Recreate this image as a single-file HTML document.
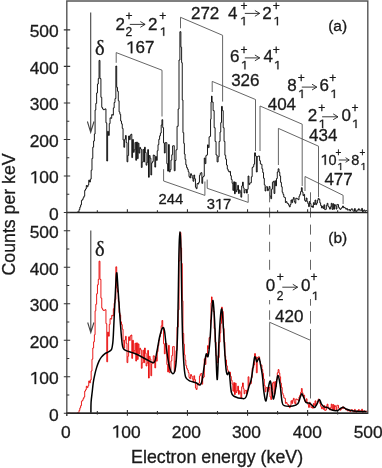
<!DOCTYPE html><html><head><meta charset="utf-8"><style>html,body{margin:0;padding:0;background:#fff;overflow:hidden}svg{display:block;filter:blur(0.3px)} text{stroke:#1a1a1a;stroke-width:0.3px}</style></head><body><svg width="382" height="468" viewBox="0 0 382 468"><rect width="382" height="468" fill="#fff"/><path d="M66.5,212.50H76.60V212.50H77.40V211.93H78.21V211.84H79.02V209.57H79.83V207.10H80.64V204.86H81.45V200.43H82.26V199.59H83.07V197.79H83.88V196.21H84.69V190.31H85.50V188.96H86.31V185.49H87.12V186.85H87.93V185.01H88.74V180.15H89.55V182.07H90.36V179.13H91.17V170.23H91.98V158.38H92.79V147.18H93.60V141.00H94.38V134.00H95.08V110.00H95.81V103.41H96.64V92.95H97.46V84.02H98.29V78.60H99.05V60.40H99.95V78.60H100.92V97.33H101.76V107.43H102.59V108.99H103.43V109.72H104.27V109.39H105.11V108.86H105.94V122.83H106.78V161.00H107.61V131.30H108.43V135.40H109.25V123.63H110.07V117.84H110.89V118.31H111.71V114.55H112.53V115.19H113.35V107.92H114.17V102.51H114.99V98.60H115.85V66.00H116.70V87.34H117.49V91.27H118.29V100.77H119.08V111.90H119.88V114.29H120.67V121.03H121.47V123.80H122.26V128.35H123.06V139.95H123.85V147.27H124.64V139.28H125.44V135.53H126.23V142.53H127.03V161.82H127.82V155.44H128.62V136.04H129.41V139.69H130.21V135.13H131.00V134.21H131.80V157.58H132.59V139.50H133.39V152.34H134.18V149.80H134.98V142.45H135.77V160.25H136.57V142.05H137.36V158.65H138.16V143.12H138.95V153.08H139.74V147.38H140.54V148.96H141.33V167.46H142.13V162.05H142.92V149.43H143.72V161.91H144.51V147.22H145.31V152.46H146.10V165.17H146.90V162.39H147.69V149.64H148.49V177.25H149.28V155.53H150.08V158.20H150.87V174.96H151.67V162.84H152.46V161.55H153.26V155.04H154.05V155.41H154.84V167.08H155.64V156.50H156.43V160.38H157.23V150.78H158.02V144.66H158.82V139.33H159.61V135.80H160.41V133.08H161.20V125.00H161.95V119.70H162.71V127.63H163.54V142.92H164.36V153.02H165.19V142.63H166.01V142.67H166.84V163.68H167.66V171.12H168.49V144.55H169.31V171.89H170.14V169.65H170.96V160.07H171.79V154.76H172.61V145.89H173.44V145.66H174.26V170.78H175.09V160.50H176.00V149.80H177.05V126.30H178.15V109.00H179.00V60.00H179.90V31.70H180.88V47.20H181.62V62.70H182.25V100.00H182.95V132.70H183.73V143.35H184.38V154.00H185.07V159.40H185.82V164.80H186.60V167.57H187.40V169.24H188.21V171.76H189.01V176.67H189.81V177.88H190.62V173.73H191.42V175.26H192.22V178.03H193.03V181.26H193.83V175.00H194.63V178.79H195.44V187.26H196.24V188.69H197.05V183.51H197.85V184.06H198.65V182.35H199.45V175.25H200.26V173.26H201.06V172.66H201.87V183.36H202.67V176.99H203.47V176.19H204.28V158.04H205.08V163.63H205.88V155.64H206.69V154.89H207.49V144.86H208.29V147.64H209.09V136.87H209.90V136.30H210.55V119.20H211.05V102.00H211.50V96.10H212.10V102.00H213.10V110.60H214.15V127.70H215.10V141.40H216.05V155.00H217.10V161.90H218.10V156.80H219.10V141.40H220.05V132.00H220.75V122.60H221.50V106.40H222.35V110.60H223.20V127.70H224.05V141.40H224.90V155.28H225.70V159.18H226.50V165.03H227.30V169.07H228.10V170.84H228.90V172.04H229.70V171.41H230.50V175.66H231.30V179.47H232.10V183.29H232.90V190.41H233.70V181.78H234.50V193.72H235.30V182.34H236.10V191.68H236.90V189.68H237.70V185.35H238.50V193.48H239.30V189.95H240.10V192.02H240.90V197.20H241.70V185.95H242.50V182.15H243.30V187.93H244.10V192.98H244.90V189.82H245.70V189.45H246.50V193.10H247.30V189.30H248.10V176.00H248.91V184.59H249.72V183.06H250.53V182.79H251.34V176.79H252.16V167.56H252.97V166.61H253.78V164.20H254.59V152.80H255.45V156.00H256.35V172.00H257.20V156.70H258.00V156.07H258.79V156.08H259.58V160.66H260.37V163.97H261.15V164.31H261.95V168.84H262.74V172.53H263.52V178.24H264.31V184.86H265.11V191.00H265.91V186.89H266.72V186.70H267.53V190.72H268.35V189.06H269.16V186.44H269.97V196.10H270.79V198.68H271.60V189.14H272.41V182.34H273.23V181.30H274.04V193.49H274.85V180.74H275.67V185.87H276.48V178.53H277.29V172.00H278.15V168.80H279.00V172.30H279.80V176.02H280.60V182.36H281.40V186.73H282.20V192.27H283.00V194.43H283.80V197.09H284.60V197.54H285.40V202.50H286.20V201.66H287.00V203.33H287.80V203.72H288.60V205.27H289.40V206.88H290.20V204.53H291.00V199.95H291.80V202.65H292.60V199.39H293.40V197.50H294.20V201.45H295.00V203.20H295.80V198.14H296.60V198.60H297.40V198.86H298.20V199.71H299.00V196.20H299.80V194.35H300.60V191.59H301.40V187.70H302.20V192.01H303.00V195.62H303.80V194.35H304.60V200.38H305.40V201.40H306.20V198.01H307.00V201.68H307.80V203.59H308.60V206.62H309.40V201.48H310.20V203.59H311.00V206.79H311.80V205.97H312.60V207.44H313.40V202.64H314.20V204.51H315.00V200.05H315.80V204.69H316.60V203.15H317.40V200.18H318.20V198.30H319.01V199.39H319.82V202.84H320.63V205.52H321.45V207.91H322.26V206.32H323.07V208.46H323.89V204.80H324.70V209.63H325.51V209.30H326.33V205.35H327.14V203.34H327.95V206.31H328.77V207.29H329.58V209.14H330.39V206.90H331.21V203.32H332.02V209.38H332.83V203.69H333.65V209.25H334.46V204.58H335.27V205.80H336.09V209.07H336.90V204.45H337.71V204.62H338.53V207.41H339.34V208.76H340.15V209.36H340.97V208.24H341.78V207.54H342.59V206.00H343.40V207.72H344.19V207.40H344.98V208.18H345.78V209.20H346.57V208.48H347.36V210.09H348.16V209.87H348.95V209.52H349.75V210.88H350.54V209.79H351.33V208.83H352.13V209.15H352.92V211.05H353.71V211.31H354.51V208.58H355.30V211.19H356.09V211.70H356.89V209.96H357.68V210.20H358.47V208.75H359.27V210.13H360.06V210.05H360.85V210.49H361.65V208.40H362.44V211.89H363.24V210.32H364.03V209.98H364.82V211.35H365.62V210.63H366.41V210.46H367.20V211.07H368.00" fill="none" stroke="#000" stroke-width="0.9" stroke-linejoin="miter"/><path d="M66.5,413.30H76.60V413.30H77.40V412.73H78.21V412.64H79.02V410.37H79.83V407.90H80.64V405.66H81.45V401.23H82.26V400.39H83.07V398.59H83.88V397.01H84.69V391.11H85.50V389.76H86.31V386.29H87.12V387.65H87.93V385.81H88.74V380.95H89.55V382.87H90.36V379.93H91.17V371.03H91.98V359.18H92.79V347.98H93.60V341.80H94.38V334.80H95.08V310.80H95.81V304.21H96.64V293.75H97.46V284.82H98.29V279.40H99.05V261.20H99.95V279.40H100.92V298.13H101.76V308.23H102.59V309.79H103.43V310.52H104.27V310.19H105.11V309.66H105.94V323.63H106.78V361.80H107.61V332.10H108.43V336.20H109.25V324.43H110.07V318.64H110.89V319.11H111.71V315.35H112.53V315.99H113.35V308.72H114.17V303.31H114.99V299.40H115.85V266.80H116.70V288.14H117.49V292.07H118.29V301.57H119.08V312.70H119.88V315.09H120.67V321.83H121.47V324.60H122.26V329.15H123.06V340.75H123.85V348.07H124.64V340.08H125.44V336.33H126.23V343.33H127.03V362.62H127.82V356.24H128.62V336.84H129.41V340.49H130.21V335.93H131.00V335.01H131.80V358.38H132.59V340.30H133.39V353.14H134.18V350.60H134.98V343.25H135.77V361.05H136.57V342.85H137.36V359.45H138.16V343.92H138.95V353.88H139.74V348.18H140.54V349.76H141.33V368.26H142.13V362.85H142.92V350.23H143.72V362.71H144.51V348.02H145.31V353.26H146.10V365.97H146.90V363.19H147.69V350.44H148.49V378.05H149.28V356.33H150.08V359.00H150.87V375.76H151.67V363.64H152.46V362.35H153.26V355.84H154.05V356.21H154.84V367.88H155.64V357.30H156.43V361.18H157.23V351.58H158.02V345.46H158.82V340.13H159.61V336.60H160.41V333.88H161.20V325.80H161.95V320.50H162.71V328.43H163.54V343.72H164.36V353.82H165.19V343.43H166.01V343.47H166.84V364.48H167.66V371.92H168.49V345.35H169.31V372.69H170.14V370.45H170.96V360.87H171.79V355.56H172.61V346.69H173.44V346.46H174.26V371.58H175.09V361.30H176.00V350.60H177.05V327.10H178.15V309.80H179.00V260.80H179.90V232.50H180.88V248.00H181.62V263.50H182.25V300.80H182.95V333.50H183.73V344.15H184.38V354.80H185.07V360.20H185.82V365.60H186.60V368.37H187.40V370.04H188.21V372.56H189.01V377.47H189.81V378.68H190.62V374.53H191.42V376.06H192.22V378.83H193.03V382.06H193.83V375.80H194.63V379.59H195.44V388.06H196.24V389.49H197.05V384.31H197.85V384.86H198.65V383.15H199.45V376.05H200.26V374.06H201.06V373.46H201.87V384.16H202.67V377.79H203.47V376.99H204.28V358.84H205.08V364.43H205.88V356.44H206.69V355.69H207.49V345.66H208.29V348.44H209.09V337.67H209.90V337.10H210.55V320.00H211.05V302.80H211.50V296.90H212.10V302.80H213.10V311.40H214.15V328.50H215.10V342.20H216.05V355.80H217.10V362.70H218.10V357.60H219.10V342.20H220.05V332.80H220.75V323.40H221.50V307.20H222.35V311.40H223.20V328.50H224.05V342.20H224.90V356.08H225.70V359.98H226.50V365.83H227.30V369.87H228.10V371.64H228.90V372.84H229.70V372.21H230.50V376.46H231.30V380.27H232.10V384.09H232.90V391.21H233.70V382.58H234.50V394.52H235.30V383.14H236.10V392.48H236.90V390.48H237.70V386.15H238.50V394.28H239.30V390.75H240.10V392.82H240.90V398.00H241.70V386.75H242.50V382.95H243.30V388.73H244.10V393.78H244.90V390.62H245.70V390.25H246.50V393.90H247.30V390.10H248.10V376.80H248.91V385.39H249.72V383.86H250.53V383.59H251.34V377.59H252.16V368.36H252.97V367.41H253.78V365.00H254.59V353.60H255.45V356.80H256.35V372.80H257.20V357.50H258.00V356.87H258.79V356.88H259.58V361.46H260.37V364.77H261.15V365.11H261.95V369.64H262.74V373.33H263.52V379.04H264.31V385.66H265.11V391.80H265.91V387.69H266.72V387.50H267.53V391.52H268.35V389.86H269.16V387.24H269.97V396.90H270.79V399.48H271.60V389.94H272.41V383.14H273.23V382.10H274.04V394.29H274.85V381.54H275.67V386.67H276.48V379.33H277.29V372.80H278.15V369.60H279.00V373.10H279.80V376.82H280.60V383.16H281.40V387.53H282.20V393.07H283.00V395.23H283.80V397.89H284.60V398.34H285.40V403.30H286.20V402.46H287.00V404.13H287.80V404.52H288.60V406.07H289.40V407.68H290.20V405.33H291.00V400.75H291.80V403.45H292.60V400.19H293.40V398.30H294.20V402.25H295.00V404.00H295.80V398.94H296.60V399.40H297.40V399.66H298.20V400.51H299.00V397.00H299.80V395.15H300.60V392.39H301.40V388.50H302.20V392.81H303.00V396.42H303.80V395.15H304.60V401.18H305.40V402.20H306.20V398.81H307.00V402.48H307.80V404.39H308.60V407.42H309.40V402.28H310.20V404.39H311.00V407.59H311.80V406.77H312.60V408.24H313.40V403.44H314.20V405.31H315.00V400.85H315.80V405.49H316.60V403.95H317.40V400.98H318.20V399.10H319.01V400.19H319.82V403.64H320.63V406.32H321.45V408.71H322.26V407.12H323.07V409.26H323.89V405.60H324.70V410.43H325.51V410.10H326.33V406.15H327.14V404.14H327.95V407.11H328.77V408.09H329.58V409.94H330.39V407.70H331.21V404.12H332.02V410.18H332.83V404.49H333.65V410.05H334.46V405.38H335.27V406.60H336.09V409.87H336.90V405.25H337.71V405.42H338.53V408.21H339.34V409.56H340.15V410.16H340.97V409.04H341.78V408.34H342.59V406.80H343.40V408.52H344.19V408.20H344.98V408.98H345.78V410.00H346.57V409.28H347.36V410.89H348.16V410.67H348.95V410.32H349.75V411.68H350.54V410.59H351.33V409.63H352.13V409.95H352.92V411.85H353.71V412.11H354.51V409.38H355.30V411.99H356.09V412.50H356.89V410.76H357.68V411.00H358.47V409.55H359.27V410.93H360.06V410.85H360.85V411.29H361.65V409.20H362.44V412.69H363.24V411.12H364.03V410.78H364.82V412.15H365.62V411.43H366.41V411.26H367.20V411.87H368.00" fill="none" stroke="#e80000" stroke-width="0.9"/><path d="M90.90,413.30C90.93,411.42 90.88,405.55 91.10,402.00C91.32,398.45 91.83,395.28 92.20,392.00C92.57,388.72 92.85,385.28 93.30,382.30C93.75,379.32 94.35,376.55 94.90,374.10C95.45,371.65 95.92,369.77 96.60,367.60C97.28,365.43 98.20,362.85 99.00,361.10C99.80,359.35 100.45,358.32 101.40,357.10C102.35,355.88 103.60,354.62 104.70,353.80C105.80,352.98 107.05,352.73 108.00,352.20C108.95,351.67 109.78,351.13 110.40,350.60C111.02,350.07 111.35,349.93 111.70,349.00C112.05,348.07 112.23,347.17 112.50,345.00C112.77,342.83 112.88,343.50 113.30,336.00C113.72,328.50 114.45,310.50 115.00,300.00C115.55,289.50 116.10,274.92 116.60,273.00C117.10,271.08 117.47,281.43 118.00,288.50C118.53,295.57 119.27,307.82 119.80,315.40C120.33,322.98 120.80,329.23 121.20,334.00C121.60,338.77 121.85,341.58 122.20,344.00C122.55,346.42 122.67,347.40 123.30,348.50C123.93,349.60 123.88,349.68 126.00,350.60C128.12,351.52 132.80,352.65 136.00,354.00C139.20,355.35 142.22,357.28 145.20,358.70C148.18,360.12 151.97,363.62 153.90,362.50C155.83,361.38 155.83,356.33 156.80,352.00C157.77,347.67 158.75,340.52 159.70,336.50C160.65,332.48 161.70,328.85 162.50,327.90C163.30,326.95 163.85,327.45 164.50,330.80C165.15,334.15 165.70,342.55 166.40,348.00C167.10,353.45 167.90,359.50 168.70,363.50C169.50,367.50 170.32,370.42 171.20,372.00C172.08,373.58 173.20,374.42 174.00,373.00C174.80,371.58 175.43,369.33 176.00,363.50C176.57,357.67 177.03,348.58 177.40,338.00C177.77,327.42 177.97,313.00 178.20,300.00C178.43,287.00 178.61,270.00 178.80,260.00C178.99,250.00 179.15,244.72 179.35,240.00C179.55,235.28 179.78,231.70 180.00,231.70C180.22,231.70 180.45,235.28 180.65,240.00C180.85,244.72 181.01,250.00 181.20,260.00C181.39,270.00 181.57,287.00 181.80,300.00C182.03,313.00 182.23,327.10 182.60,338.00C182.97,348.90 183.50,358.90 184.00,365.40C184.50,371.90 184.68,374.43 185.60,377.00C186.52,379.57 187.77,379.85 189.50,380.80C191.23,381.75 194.27,382.00 196.00,382.70C197.73,383.40 198.90,385.32 199.90,385.00C200.90,384.68 201.28,383.97 202.00,380.80C202.72,377.63 203.50,370.47 204.20,366.00C204.90,361.53 205.55,355.62 206.20,354.00C206.85,352.38 207.47,358.63 208.10,356.30C208.73,353.97 209.42,347.22 210.00,340.00C210.58,332.78 211.10,319.57 211.60,313.00C212.10,306.43 212.52,299.63 213.00,300.60C213.48,301.57 214.03,310.57 214.50,318.80C214.97,327.03 215.33,339.88 215.80,350.00C216.27,360.12 216.77,381.17 217.30,379.50C217.83,377.83 218.45,350.75 219.00,340.00C219.55,329.25 220.13,320.13 220.60,315.00C221.07,309.87 221.40,308.23 221.80,309.20C222.20,310.17 222.55,314.38 223.00,320.80C223.45,327.22 224.00,339.70 224.50,347.70C225.00,355.70 225.53,364.32 226.00,368.80C226.47,373.28 226.75,373.90 227.30,374.60C227.85,375.30 228.63,370.10 229.30,373.00C229.97,375.90 230.43,388.08 231.30,392.00C232.17,395.92 232.58,395.40 234.50,396.50C236.42,397.60 240.88,398.52 242.80,398.60C244.72,398.68 244.95,399.10 246.00,397.00C247.05,394.90 248.25,388.83 249.10,386.00C249.95,383.17 250.43,383.17 251.10,380.00C251.77,376.83 252.55,370.67 253.10,367.00C253.65,363.33 254.02,359.62 254.40,358.00C254.78,356.38 255.00,356.65 255.40,357.30C255.80,357.95 256.20,361.78 256.80,361.90C257.40,362.02 258.42,357.78 259.00,358.00C259.58,358.22 259.75,360.37 260.30,363.20C260.85,366.03 261.68,370.08 262.30,375.00C262.92,379.92 263.38,388.38 264.00,392.70C264.62,397.02 265.30,401.62 266.00,400.90C266.70,400.18 267.48,391.72 268.20,388.40C268.92,385.08 269.67,380.63 270.30,381.00C270.93,381.37 271.47,387.60 272.00,390.60C272.53,393.60 272.88,399.37 273.50,399.00C274.12,398.63 274.98,392.30 275.70,388.40C276.42,384.50 277.08,376.33 277.80,375.60C278.52,374.87 279.30,379.72 280.00,384.00C280.70,388.28 281.30,397.70 282.00,401.30C282.70,404.90 282.40,404.82 284.20,405.60C286.00,406.38 290.50,406.37 292.80,406.00C295.10,405.63 296.75,404.90 298.00,403.40C299.25,401.90 299.67,398.60 300.30,397.00C300.93,395.40 301.27,393.80 301.80,393.80C302.33,393.80 302.80,395.57 303.50,397.00C304.20,398.43 304.92,401.33 306.00,402.40C307.08,403.47 308.60,402.57 310.00,403.40C311.40,404.23 313.23,407.33 314.40,407.40C315.57,407.47 316.17,405.12 317.00,403.80C317.83,402.48 318.68,399.50 319.40,399.50C320.12,399.50 320.52,402.57 321.30,403.80C322.08,405.03 323.10,406.28 324.10,406.90C325.10,407.52 325.98,406.98 327.30,407.50C328.62,408.02 330.30,409.50 332.00,410.00C333.70,410.50 336.07,410.75 337.50,410.50C338.93,410.25 339.63,409.05 340.60,408.50C341.57,407.95 342.38,407.12 343.30,407.20C344.22,407.28 344.85,408.45 346.10,409.00C347.35,409.55 348.98,410.12 350.80,410.50C352.62,410.88 354.38,411.12 357.00,411.30C359.62,411.48 364.92,411.55 366.50,411.60" fill="none" stroke="#000" stroke-width="1.5" stroke-linejoin="round"/><path d="M116.2,62.8V52.6L162,70.2V116.5M180.5,28.3V17.3L222.6,35.3V101.6M212.2,92V81.4L255.5,99.5V151M260,151V106L302.2,124.2V186M278.4,165V128.4L318.5,146.2V197M305,191V176.5L343.1,195.3V204M163.6,169.2V181L204.9,195.4V181.5M207.2,179.6V188.3L248.2,202.4V194M269.7,376.5V322.3L310.5,340.3V398.5" fill="none" stroke="#555" stroke-width="0.9"/><path d="M269.6,192.3V202.3M269.6,207.5V217.5M269.6,224.6V234.6M269.6,241.8V251.8M269.6,259.8V269.8M310.5,192.3V202.3M310.5,207.5V217.5M310.5,224.6V234.6M310.5,241.8V251.8M310.5,259.8V269.8M269.6,300V304.4M269.6,310.3V319.8M310.5,299V305.7M310.5,311V323.6M310.5,329V340" fill="none" stroke="#555" stroke-width="0.9"/><path d="M90.7,12.6V132.4M87.4,121.5L90.7,132.4L94.0,121.5" fill="none" stroke="#444" stroke-width="1.1"/><path d="M90.8,230.5V332.7M87.7,322.5L90.8,332.7L93.9,322.5" fill="none" stroke="#444" stroke-width="1.1"/><path d="M66.8,1.0H367.8V413.3H66.8Z" fill="none" stroke="#555" stroke-width="1.4"/><path d="M66.8,212.5H367.8M66.2,413.3H367.8" fill="none" stroke="#222" stroke-width="1.5"/><path d="M66.8,413.3V415.90000000000003" fill="none" stroke="#333" stroke-width="1.4"/><path d="M63.8,212.50H70.2M66.8,194.24H69.3M63.8,175.98H70.2M66.8,157.72H69.3M63.8,139.46H70.2M66.8,121.20H69.3M63.8,102.94H70.2M66.8,84.68H69.3M63.8,66.42H70.2M66.8,48.16H69.3M63.8,29.90H70.2M63.8,413.30H70.2M66.8,395.04H69.3M63.8,376.78H70.2M66.8,358.52H69.3M63.8,340.26H70.2M66.8,322.00H69.3M63.8,303.74H70.2M66.8,285.48H69.3M63.8,267.22H70.2M66.8,248.96H69.3M63.8,230.70H70.2M97.34,212.50V210.30M97.34,414.50V411.10M127.38,212.50V209.30M127.38,415.80V410.10M157.42,212.50V210.30M157.42,414.50V411.10M187.46,212.50V209.30M187.46,415.80V410.10M217.50,212.50V210.30M217.50,414.50V411.10M247.54,212.50V209.30M247.54,415.80V410.10M277.58,212.50V210.30M277.58,414.50V411.10M307.62,212.50V209.30M307.62,415.80V410.10M337.66,212.50V210.30M337.66,414.50V411.10" fill="none" stroke="#333" stroke-width="1.1"/><text x="49.02" y="219.80" font-family="Liberation Sans" font-size="17.4" fill="#1a1a1a">0</text><text x="49.02" y="420.60" font-family="Liberation Sans" font-size="17.4" fill="#1a1a1a">0</text><path transform="translate(29.67,183.28) scale(0.00850,-0.00850)" d="M580,0L580,1220L200,1000L200,1175L595,1409L760,1409L760,0Z" fill="#1a1a1a" stroke="#1a1a1a" stroke-width="35.3"/><text x="39.35" y="183.28" font-family="Liberation Sans" font-size="17.4" fill="#1a1a1a">00</text><path transform="translate(29.67,384.08) scale(0.00850,-0.00850)" d="M580,0L580,1220L200,1000L200,1175L595,1409L760,1409L760,0Z" fill="#1a1a1a" stroke="#1a1a1a" stroke-width="35.3"/><text x="39.35" y="384.08" font-family="Liberation Sans" font-size="17.4" fill="#1a1a1a">00</text><text x="29.67" y="146.76" font-family="Liberation Sans" font-size="17.4" fill="#1a1a1a">200</text><text x="29.67" y="347.56" font-family="Liberation Sans" font-size="17.4" fill="#1a1a1a">200</text><text x="29.67" y="110.24" font-family="Liberation Sans" font-size="17.4" fill="#1a1a1a">300</text><text x="29.67" y="311.04" font-family="Liberation Sans" font-size="17.4" fill="#1a1a1a">300</text><text x="29.67" y="73.72" font-family="Liberation Sans" font-size="17.4" fill="#1a1a1a">400</text><text x="29.67" y="274.52" font-family="Liberation Sans" font-size="17.4" fill="#1a1a1a">400</text><text x="29.67" y="37.20" font-family="Liberation Sans" font-size="17.4" fill="#1a1a1a">500</text><text x="29.67" y="238.00" font-family="Liberation Sans" font-size="17.4" fill="#1a1a1a">500</text><text x="61.06" y="437.60" font-family="Liberation Sans" font-size="17.4" fill="#1a1a1a">0</text><path transform="translate(111.66,437.60) scale(0.00850,-0.00850)" d="M580,0L580,1220L200,1000L200,1175L595,1409L760,1409L760,0Z" fill="#1a1a1a" stroke="#1a1a1a" stroke-width="35.3"/><text x="121.34" y="437.60" font-family="Liberation Sans" font-size="17.4" fill="#1a1a1a">00</text><text x="171.84" y="437.60" font-family="Liberation Sans" font-size="17.4" fill="#1a1a1a">200</text><text x="231.92" y="437.60" font-family="Liberation Sans" font-size="17.4" fill="#1a1a1a">300</text><text x="292.80" y="437.60" font-family="Liberation Sans" font-size="17.4" fill="#1a1a1a">400</text><text x="353.68" y="437.60" font-family="Liberation Sans" font-size="17.4" fill="#1a1a1a">500</text><text x="131.1" y="463.1" font-family="Liberation Sans" font-size="17.8" fill="#1a1a1a">Electron energy (keV)</text><text transform="translate(14.8,275.4) rotate(-90)" font-family="Liberation Sans" font-size="17.7" fill="#1a1a1a">Counts per keV</text><text x="328.2" y="30.6" font-family="Liberation Sans" font-size="15.5" fill="#1a1a1a">(a)</text><text x="328.3" y="242.6" font-family="Liberation Sans" font-size="15.5" fill="#1a1a1a">(b)</text><text x="94.9" y="55.0" font-family="Liberation Serif" font-size="20.5" fill="#1a1a1a">&#948;</text><text x="95.0" y="255.6" font-family="Liberation Serif" font-size="20.5" fill="#1a1a1a">&#948;</text><text x="115.55" y="30.10" font-family="Liberation Sans" font-size="17" fill="#1a1a1a">2</text><text x="125.51" y="20.39" font-family="Liberation Sans" font-size="12" fill="#1a1a1a">+</text><text x="125.50" y="35.80" font-family="Liberation Sans" font-size="12" fill="#1a1a1a">2</text><path d="M129.80,24.40H145.10M140.30,21.50L145.10,24.40L140.30,27.30" fill="none" stroke="#222" stroke-width="0.9"/><text x="148.05" y="30.10" font-family="Liberation Sans" font-size="17" fill="#1a1a1a">2</text><text x="159.31" y="20.39" font-family="Liberation Sans" font-size="12" fill="#1a1a1a">+</text><path transform="translate(159.79,35.80) scale(0.00586,-0.00586)" d="M580,0L580,1220L200,1000L200,1175L595,1409L760,1409L760,0Z" fill="#1a1a1a" stroke="#1a1a1a" stroke-width="51.2"/><text x="228.11" y="18.80" font-family="Liberation Sans" font-size="17" fill="#1a1a1a">4</text><text x="240.51" y="9.49" font-family="Liberation Sans" font-size="12" fill="#1a1a1a">+</text><path transform="translate(240.19,25.20) scale(0.00586,-0.00586)" d="M580,0L580,1220L200,1000L200,1175L595,1409L760,1409L760,0Z" fill="#1a1a1a" stroke="#1a1a1a" stroke-width="51.2"/><path d="M244.80,13.40H259.70M254.90,10.50L259.70,13.40L254.90,16.30" fill="none" stroke="#222" stroke-width="0.9"/><text x="262.25" y="18.80" font-family="Liberation Sans" font-size="17" fill="#1a1a1a">2</text><text x="272.71" y="9.49" font-family="Liberation Sans" font-size="12" fill="#1a1a1a">+</text><path transform="translate(273.49,25.20) scale(0.00586,-0.00586)" d="M580,0L580,1220L200,1000L200,1175L595,1409L760,1409L760,0Z" fill="#1a1a1a" stroke="#1a1a1a" stroke-width="51.2"/><text x="230.04" y="62.40" font-family="Liberation Sans" font-size="17" fill="#1a1a1a">6</text><text x="240.51" y="53.59" font-family="Liberation Sans" font-size="12" fill="#1a1a1a">+</text><path transform="translate(240.99,69.30) scale(0.00586,-0.00586)" d="M580,0L580,1220L200,1000L200,1175L595,1409L760,1409L760,0Z" fill="#1a1a1a" stroke="#1a1a1a" stroke-width="51.2"/><path d="M244.80,57.90H259.70M254.90,55.00L259.70,57.90L254.90,60.80" fill="none" stroke="#222" stroke-width="0.9"/><text x="263.51" y="62.40" font-family="Liberation Sans" font-size="17" fill="#1a1a1a">4</text><text x="272.71" y="53.59" font-family="Liberation Sans" font-size="12" fill="#1a1a1a">+</text><path transform="translate(273.99,69.30) scale(0.00586,-0.00586)" d="M580,0L580,1220L200,1000L200,1175L595,1409L760,1409L760,0Z" fill="#1a1a1a" stroke="#1a1a1a" stroke-width="51.2"/><text x="287.36" y="90.90" font-family="Liberation Sans" font-size="17" fill="#1a1a1a">8</text><text x="297.71" y="81.99" font-family="Liberation Sans" font-size="12" fill="#1a1a1a">+</text><path transform="translate(298.19,98.00) scale(0.00586,-0.00586)" d="M580,0L580,1220L200,1000L200,1175L595,1409L760,1409L760,0Z" fill="#1a1a1a" stroke="#1a1a1a" stroke-width="51.2"/><path d="M301.80,87.10H316.80M312.00,84.20L316.80,87.10L312.00,90.00" fill="none" stroke="#222" stroke-width="0.9"/><text x="319.44" y="90.90" font-family="Liberation Sans" font-size="17" fill="#1a1a1a">6</text><text x="329.31" y="81.99" font-family="Liberation Sans" font-size="12" fill="#1a1a1a">+</text><path transform="translate(330.39,98.00) scale(0.00586,-0.00586)" d="M580,0L580,1220L200,1000L200,1175L595,1409L760,1409L760,0Z" fill="#1a1a1a" stroke="#1a1a1a" stroke-width="51.2"/><text x="307.85" y="120.80" font-family="Liberation Sans" font-size="17" fill="#1a1a1a">2</text><text x="318.21" y="111.59" font-family="Liberation Sans" font-size="12" fill="#1a1a1a">+</text><path transform="translate(318.69,128.00) scale(0.00586,-0.00586)" d="M580,0L580,1220L200,1000L200,1175L595,1409L760,1409L760,0Z" fill="#1a1a1a" stroke="#1a1a1a" stroke-width="51.2"/><path d="M322.10,116.80H338.00M333.20,113.90L338.00,116.80L333.20,119.70" fill="none" stroke="#222" stroke-width="0.9"/><text x="341.44" y="120.80" font-family="Liberation Sans" font-size="17" fill="#1a1a1a">0</text><text x="351.61" y="111.59" font-family="Liberation Sans" font-size="12" fill="#1a1a1a">+</text><path transform="translate(352.09,128.00) scale(0.00586,-0.00586)" d="M580,0L580,1220L200,1000L200,1175L595,1409L760,1409L760,0Z" fill="#1a1a1a" stroke="#1a1a1a" stroke-width="51.2"/><path transform="translate(320.50,164.80) scale(0.00708,-0.00708)" d="M580,0L580,1220L200,1000L200,1175L595,1409L760,1409L760,0Z" fill="#1a1a1a" stroke="#1a1a1a" stroke-width="42.4"/><text x="328.56" y="164.80" font-family="Liberation Sans" font-size="14.5" fill="#1a1a1a">0</text><text x="335.41" y="155.72" font-family="Liberation Sans" font-size="10" fill="#1a1a1a">+</text><path transform="translate(337.44,170.00) scale(0.00488,-0.00488)" d="M580,0L580,1220L200,1000L200,1175L595,1409L760,1409L760,0Z" fill="#1a1a1a" stroke="#1a1a1a" stroke-width="61.4"/><path d="M338.70,160.00H349.20M345.60,157.70L349.20,160.00L345.60,162.30" fill="none" stroke="#222" stroke-width="0.9"/><text x="351.17" y="164.80" font-family="Liberation Sans" font-size="14.5" fill="#1a1a1a">8</text><text x="359.41" y="155.72" font-family="Liberation Sans" font-size="10" fill="#1a1a1a">+</text><path transform="translate(360.54,170.00) scale(0.00488,-0.00488)" d="M580,0L580,1220L200,1000L200,1175L595,1409L760,1409L760,0Z" fill="#1a1a1a" stroke="#1a1a1a" stroke-width="61.4"/><text x="265.64" y="291.20" font-family="Liberation Sans" font-size="17" fill="#1a1a1a">0</text><text x="276.71" y="280.59" font-family="Liberation Sans" font-size="12" fill="#1a1a1a">+</text><text x="276.70" y="300.00" font-family="Liberation Sans" font-size="12" fill="#1a1a1a">2</text><path d="M282.30,287.20H297.60M292.80,284.30L297.60,287.20L292.80,290.10" fill="none" stroke="#222" stroke-width="0.9"/><text x="301.04" y="291.20" font-family="Liberation Sans" font-size="17" fill="#1a1a1a">0</text><text x="310.51" y="280.59" font-family="Liberation Sans" font-size="12" fill="#1a1a1a">+</text><path transform="translate(311.79,300.00) scale(0.00586,-0.00586)" d="M580,0L580,1220L200,1000L200,1175L595,1409L760,1409L760,0Z" fill="#1a1a1a" stroke="#1a1a1a" stroke-width="51.2"/><path transform="translate(126.01,53.20) scale(0.00830,-0.00830)" d="M580,0L580,1220L200,1000L200,1175L595,1409L760,1409L760,0Z" fill="#1a1a1a" stroke="#1a1a1a" stroke-width="36.1"/><text x="135.46" y="53.20" font-family="Liberation Sans" font-size="17" fill="#1a1a1a">67</text><text x="190.95" y="18.70" font-family="Liberation Sans" font-size="17" fill="#1a1a1a">272</text><text x="231.15" y="85.90" font-family="Liberation Sans" font-size="17" fill="#1a1a1a">326</text><text x="267.71" y="109.90" font-family="Liberation Sans" font-size="17" fill="#1a1a1a">404</text><text x="309.11" y="141.10" font-family="Liberation Sans" font-size="17" fill="#1a1a1a">434</text><text x="324.41" y="185.00" font-family="Liberation Sans" font-size="17" fill="#1a1a1a">477</text><text x="158.46" y="203.60" font-family="Liberation Sans" font-size="14.8" fill="#1a1a1a">244</text><text x="206.64" y="209.30" font-family="Liberation Sans" font-size="14.8" fill="#1a1a1a">3</text><path transform="translate(214.87,209.30) scale(0.00723,-0.00723)" d="M580,0L580,1220L200,1000L200,1175L595,1409L760,1409L760,0Z" fill="#1a1a1a" stroke="#1a1a1a" stroke-width="41.5"/><text x="223.10" y="209.30" font-family="Liberation Sans" font-size="14.8" fill="#1a1a1a">7</text><text x="275.11" y="321.60" font-family="Liberation Sans" font-size="17" fill="#1a1a1a">420</text></svg></body></html>
